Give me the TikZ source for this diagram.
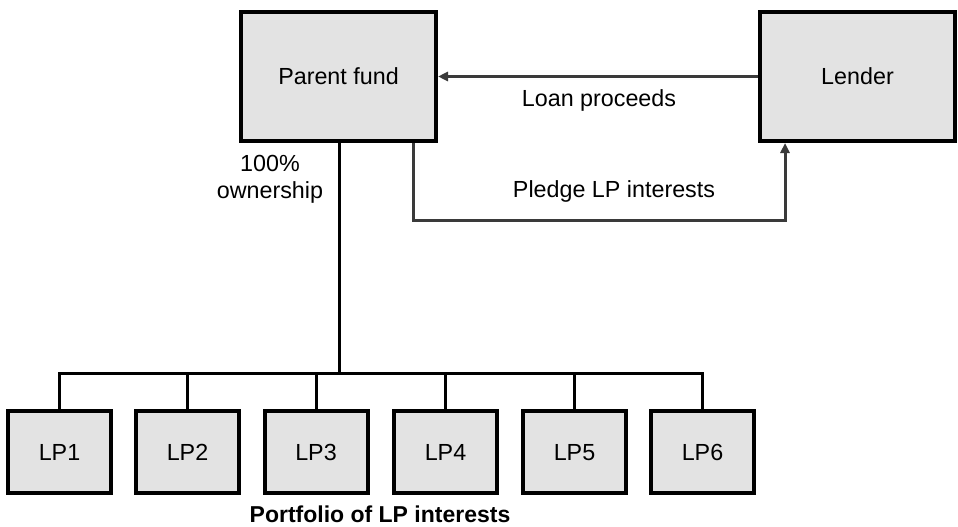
\documentclass[tikz,border=0pt]{standalone}
\usepackage{fontspec}
\setmainfont{Liberation Sans}
\usetikzlibrary{arrows.meta}
\begin{document}
\begin{tikzpicture}[x=1pt,y=-1pt,
  box/.style={draw=black, line width=4pt, fill=boxgray, inner sep=0pt,
    font=\fontsize{23.3}{27}\selectfont},
  bigbox/.style={box, minimum width=195pt, minimum height=129pt},
  lpbox/.style={box, minimum width=103pt, minimum height=82pt, text height=17pt, text depth=0pt},
  lbl/.style={font=\fontsize{23.3}{27}\selectfont, inner sep=0pt},
  tree/.style={draw=black, line width=3pt},
  flow/.style={draw=flowgray, line width=3pt, -{Triangle[length=10pt,width=9pt]}}
]
\definecolor{boxgray}{HTML}{E3E3E3}
\definecolor{flowgray}{HTML}{3A3A3A}
\useasboundingbox (0,0) rectangle (958,527);
\node[bigbox] (parent) at (338.5,76.5) {Parent fund};
\node[bigbox] (lender) at (857.5,76.5) {Lender};
\foreach \i/\x in {1/59.5,2/187.5,3/316,4/445.5,5/574.5,6/702.5}{
  \node[lpbox] (lp\i) at (\x,452) {LP\i};
}
\coordinate (bus) at (339,373);
\coordinate (busL) at (lp1.north |- bus);
\coordinate (busR) at (lp6.north |- bus);
\draw[tree] (parent.south -| bus) -- (bus);
\draw[tree, line cap=rect] (busL) -- (busR);
\foreach \i in {1,...,6}{
  \draw[tree] (lp\i.north |- bus) -- (lp\i.north);
}
\draw[flow] (lender.west) -- (parent.east);
\coordinate (p1) at (413,220);
\coordinate (p2) at (785,220);
\draw[flow] (parent.south -| p1) -- (p1) -- (p2) -- (lender.south -| p2);
\node[lbl] (loan) at (599,100) {Loan proceeds};
\node[lbl] (pledge) at (614,191) {Pledge LP interests};
\node[lbl, align=center] (own) at (270,179) {100\%\\ownership};
\node[lbl, font=\fontsize{23}{27}\selectfont\bfseries] (port) at (380,514) {Portfolio of LP interests};
\end{tikzpicture}
\end{document}
